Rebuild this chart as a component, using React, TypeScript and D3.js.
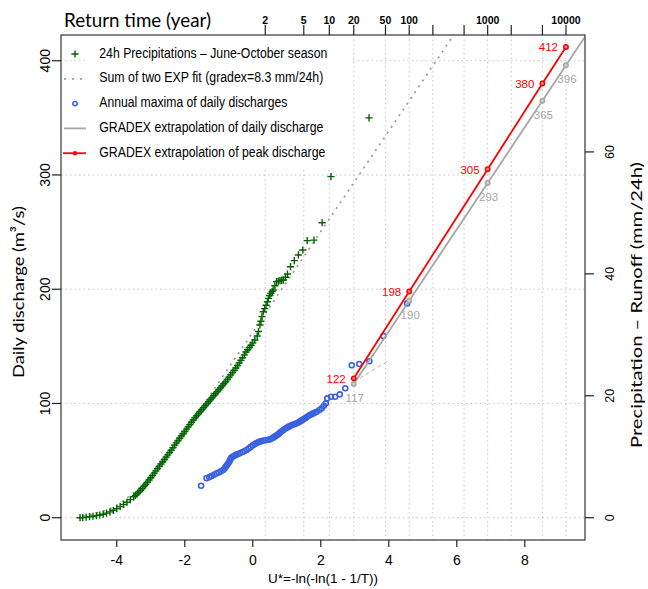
import React, { useEffect, useRef } from 'react';
import * as d3 from 'd3';

// U* = reduced Gumbel variate, Q = daily discharge (m3/s)
const U_TICKS = [-4, -2, 0, 2, 4, 6, 8];
const Q_TICKS = [0, 100, 200, 300, 400];
const MM_TICKS = [0, 20, 40, 60];
const RETURN_T = [2, 5, 10, 20, 50, 100, 200, 500, 1000, 2000, 5000, 10000];
const RETURN_LABELLED = [2, 5, 10, 20, 50, 100, 1000, 10000];
const MM_TO_Q = 5.336; // 1 mm/24h over the catchment in m3/s

// 24h precipitations (already expressed in m3/s), [U*, Q]
const PRECIP = [
  [-5.08, 0], [-5.0, 0.2], [-4.9, 0.5], [-4.8, 0.9], [-4.7, 1.3], [-4.6, 1.8], [-4.5, 2.4], [-4.4, 3.1],
  [-4.3, 4.0], [-4.2, 5.1], [-4.1, 6.5], [-4.0, 8.0], [-3.9, 9.7], [-3.8, 11.6], [-3.7, 13.6], [-3.6, 15.8],
  [-3.5, 18.3], [-3.45, 19.6], [-3.4, 21], [-3.35, 22.5], [-3.3, 24], [-3.25, 25.7], [-3.2, 27.5], [-3.15, 29.2],
  [-3.1, 31], [-3.05, 33], [-3.0, 35], [-2.95, 37], [-2.9, 39], [-2.85, 41], [-2.8, 43], [-2.75, 45],
  [-2.7, 47], [-2.65, 49], [-2.6, 51], [-2.55, 53], [-2.5, 55], [-2.45, 57], [-2.4, 59], [-2.35, 61.2],
  [-2.3, 63.5], [-2.25, 65.5], [-2.2, 67.5], [-2.15, 69.5], [-2.1, 71.5], [-2.05, 73.5], [-2.0, 75.5], [-1.95, 77.5],
  [-1.9, 79.5], [-1.85, 81.5], [-1.8, 83.5], [-1.75, 85.5], [-1.7, 87.5], [-1.65, 89.3], [-1.6, 91], [-1.55, 92.8],
  [-1.5, 94.5], [-1.45, 96.2], [-1.4, 98], [-1.35, 99.7], [-1.3, 101.5], [-1.25, 103.2], [-1.2, 105], [-1.15, 106.7],
  [-1.1, 108.5], [-1.05, 110.2], [-1.0, 112], [-0.95, 113.7], [-0.9, 115.5], [-0.85, 117.2], [-0.8, 119], [-0.75, 121],
  [-0.7, 123], [-0.65, 125], [-0.6, 127], [-0.55, 129], [-0.5, 131], [-0.45, 133.2], [-0.4, 135.5], [-0.35, 137.7],
  [-0.3, 140], [-0.25, 142.5], [-0.2, 145], [-0.15, 147], [-0.1, 149], [-0.05, 151], [0.0, 153],
  [0.06, 155.5], [0.13, 159], [0.17, 163], [0.21, 168.7], [0.24, 172], [0.27, 176], [0.31, 180.3], [0.35, 183],
  [0.39, 186], [0.43, 189], [0.46, 192], [0.5, 194.5], [0.53, 196.4], [0.57, 198], [0.6, 199.3], [0.65, 203],
  [0.7, 206.6], [0.75, 207], [0.8, 207.5], [0.85, 207.8], [0.9, 208], [0.96, 210.5], [1.02, 213.3], [1.11, 219.7],
  [1.22, 225], [1.34, 230], [1.47, 234.3], [1.6, 242.5], [1.8, 243], [2.04, 258.2], [2.3, 298.5], [3.42, 350],
];

// sum of two exponentials fit, [U*, Q]
const EXP_FIT = [
  [-5.0, 1.5], [-4.6, 4], [-4.2, 8], [-3.8, 15], [-3.4, 24.5], [-3.0, 36.5], [-2.6, 51], [-2.2, 67],
  [-1.8, 84], [-1.4, 101], [-1.0, 118.5], [-0.6, 136], [-0.2, 153.5], [0.2, 171], [0.6, 189], [1.0, 206.5],
  [1.5, 228.5], [2.0, 250.5], [2.5, 272.5], [3.0, 294.5], [4.0, 338.5], [5.0, 382.5], [6.2, 435.5],
];

// annual maxima of daily discharges, [U*, Q]
const ANNUAL_MAX = [
  [-1.52, 28], [-1.36, 34.5], [-1.28, 35.5], [-1.21, 36.5], [-1.13, 37.8], [-1.06, 38.9], [-1.0, 39.6], [-0.94, 40.6],
  [-0.87, 41.8], [-0.83, 43], [-0.8, 44.5], [-0.76, 46], [-0.72, 47.6], [-0.69, 49], [-0.67, 50.5], [-0.64, 51.8],
  [-0.62, 52.9], [-0.57, 53.8], [-0.53, 54.5], [-0.48, 55.2], [-0.43, 55.8], [-0.37, 56.6], [-0.3, 57.5], [-0.24, 58.4],
  [-0.18, 59.3], [-0.12, 60.6], [-0.06, 62], [0.0, 63.3], [0.06, 64.5], [0.11, 65.3], [0.16, 66], [0.21, 66.6],
  [0.26, 67.1], [0.32, 67.5], [0.38, 67.8], [0.45, 68.2], [0.51, 68.6], [0.57, 69.5], [0.62, 70.5], [0.67, 71.4],
  [0.72, 72.4], [0.77, 73.6], [0.81, 74.8], [0.86, 75.8], [0.9, 76.8], [0.95, 77.8], [1.0, 78.7], [1.05, 79.5],
  [1.09, 80.3], [1.14, 80.9], [1.19, 81.5], [1.24, 82], [1.29, 82.6], [1.34, 83.4], [1.39, 84.3], [1.44, 85.2],
  [1.49, 86.1], [1.54, 87], [1.58, 88], [1.63, 89], [1.68, 89.9], [1.73, 90.6], [1.78, 91.3], [1.83, 92],
  [1.88, 92.8], [1.96, 94.3], [2.03, 95.8], [2.09, 98], [2.15, 100.1], [2.19, 104.5], [2.3, 105.9], [2.42, 105.9],
  [2.56, 108], [2.72, 113.3], [2.91, 133.4], [3.13, 134.5], [3.43, 136.9], [3.84, 159], [4.54, 187.6],
];

// short fit of the daily maxima tail
const DAILY_FIT_TAIL = [[2.97, 119], [3.94, 136.5]];

// GRADEX extrapolations at given return times
const GRADEX_T = [20, 100, 1000, 5000, 10000];
const DAILY_Q = [117, 190, 293, 365, 396];
const PEAK_Q = [122, 198, 305, 380, 412];

const LEGEND = [
  { label: '24h Precipitations \u2013 June-October season', w: 228 },
  { label: 'Sum of two EXP fit (gradex=8.3 mm/24h)', w: 224 },
  { label: 'Annual maxima of daily discharges', w: 188 },
  { label: 'GRADEX extrapolation of daily discharge', w: 224 },
  { label: 'GRADEX extrapolation of peak discharge', w: 226 },
];

const uOfT = (t) => -Math.log(-Math.log(1 - 1 / t));

const SANS = '"Liberation Sans", Arial, sans-serif';
const TITLE = 'Lato, "Open Sans", sans-serif';
const GREEN = '#006400';
const BLUE = '#3a62e0';
const GREY = '#a6a6a6';
const RED = '#ff0000';

const App = () => {
  const ref = useRef(null);

  useEffect(() => {
    const L = 61, R = 585, T = 35, B = 540;
    const x = d3.scaleLinear().domain([-5.64, 9.77]).range([L, R]);
    const y = d3.scaleLinear().domain([-19.5, 422.5]).range([B, T]);
    const yMm = d3.scaleLinear().domain([-19.5 / MM_TO_Q, 422.5 / MM_TO_Q]).range([B, T]);

    const svg = d3.select(ref.current);
    svg.selectAll('*').remove();

    svg.append('defs').append('clipPath').attr('id', 'plotClip')
      .append('rect').attr('x', L).attr('y', T).attr('width', R - L).attr('height', B - T);

    // grid
    const grid = svg.append('g').attr('stroke', '#c8c8c8').attr('stroke-width', 1).attr('stroke-dasharray', '1.5,3');
    RETURN_T.forEach(t => {
      grid.append('line').attr('x1', x(uOfT(t))).attr('x2', x(uOfT(t))).attr('y1', T).attr('y2', B);
    });
    Q_TICKS.forEach(q => {
      grid.append('line').attr('x1', L).attr('x2', R).attr('y1', y(q)).attr('y2', y(q));
    });

    // legend background hides the grid behind it
    svg.append('rect').attr('x', 88).attr('y', T + 1).attr('width', 264).attr('height', 131).attr('fill', '#fff');

    const plot = svg.append('g').attr('clip-path', 'url(#plotClip)');
    const line = d3.line().x(d => x(d[0])).y(d => y(d[1]));

    // exp fit, dotted
    plot.append('path')
      .attr('d', line.curve(d3.curveMonotoneX)(EXP_FIT))
      .attr('fill', 'none').attr('stroke', '#9a9a9a').attr('stroke-width', 1.7)
      .attr('stroke-dasharray', '2,5');
    line.curve(d3.curveLinear);

    // precipitation crosses
    const cs = 3.6;
    plot.append('g').selectAll('path').data(PRECIP).enter().append('path')
      .attr('d', d => `M${x(d[0]) - cs},${y(d[1])}h${2 * cs}M${x(d[0])},${y(d[1]) - cs}v${2 * cs}`)
      .attr('stroke', GREEN).attr('stroke-width', 1.4).attr('fill', 'none');

    // short dashed fit of daily maxima
    plot.append('path').attr('d', line(DAILY_FIT_TAIL))
      .attr('fill', 'none').attr('stroke', '#b0b0b0').attr('stroke-width', 1).attr('stroke-dasharray', '4,3');

    // annual maxima circles
    plot.append('g').selectAll('circle').data(ANNUAL_MAX).enter().append('circle')
      .attr('cx', d => x(d[0])).attr('cy', d => y(d[1])).attr('r', 2.5)
      .attr('fill', 'none').attr('stroke', BLUE).attr('stroke-width', 1.6);

    // GRADEX daily line, extended to the right border with its own slope
    const daily = GRADEX_T.map((t, i) => [uOfT(t), DAILY_Q[i]]);
    const n = daily.length;
    const slope = (daily[n - 1][1] - daily[n - 2][1]) / (daily[n - 1][0] - daily[n - 2][0]);
    const xMax = x.domain()[1];
    const dailyExt = [...daily, [xMax, daily[n - 1][1] + slope * (xMax - daily[n - 1][0])]];
    plot.append('path').attr('d', line(dailyExt))
      .attr('fill', 'none').attr('stroke', GREY).attr('stroke-width', 1.8);

    const peak = GRADEX_T.map((t, i) => [uOfT(t), PEAK_Q[i]]);
    plot.append('path').attr('d', line(peak))
      .attr('fill', 'none').attr('stroke', RED).attr('stroke-width', 1.8);

    plot.append('g').selectAll('circle').data(daily).enter().append('circle')
      .attr('cx', d => x(d[0])).attr('cy', d => y(d[1])).attr('r', 2.2)
      .attr('fill', '#d0d0d0').attr('stroke', GREY).attr('stroke-width', 1.5);
    plot.append('g').selectAll('circle').data(peak).enter().append('circle')
      .attr('cx', d => x(d[0])).attr('cy', d => y(d[1])).attr('r', 2.2)
      .attr('fill', '#ff8080').attr('stroke', RED).attr('stroke-width', 1.5);

    // value labels
    svg.append('g').selectAll('text').data(peak).enter().append('text')
      .attr('x', d => x(d[0]) - 8).attr('y', d => y(d[1]) + 4.5)
      .attr('text-anchor', 'end').attr('font-family', SANS).attr('font-size', 11.5)
      .attr('fill', RED).text(d => d[1]);
    svg.append('g').selectAll('text').data(daily).enter().append('text')
      .attr('x', d => x(d[0]) + 1).attr('y', d => y(d[1]) + 18)
      .attr('text-anchor', 'middle').attr('font-family', SANS).attr('font-size', 11.5)
      .attr('fill', GREY).text(d => d[1]);

    // box
    svg.append('rect').attr('x', L).attr('y', T).attr('width', R - L).attr('height', B - T)
      .attr('fill', 'none').attr('stroke', '#444').attr('stroke-width', 1.3);

    const ax = svg.append('g').attr('stroke', '#222').attr('stroke-width', 1.2);

    // bottom axis
    U_TICKS.forEach(u => {
      ax.append('line').attr('x1', x(u)).attr('x2', x(u)).attr('y1', B).attr('y2', B + 7);
      svg.append('text').attr('x', x(u)).attr('y', B + 25).attr('text-anchor', 'middle')
        .attr('font-family', SANS).attr('font-size', 14).text(u);
    });
    svg.append('text').attr('x', (L + R) / 2).attr('y', 583).attr('text-anchor', 'middle')
      .attr('font-family', SANS).attr('font-size', 13.5).text('U*=-ln(-ln(1 - 1/T))');

    // left axis
    Q_TICKS.forEach(q => {
      ax.append('line').attr('x1', L - 9).attr('x2', L).attr('y1', y(q)).attr('y2', y(q));
      svg.append('text').attr('transform', `translate(50,${y(q)}) rotate(-90)`).attr('text-anchor', 'middle')
        .attr('font-family', SANS).attr('font-size', 14).text(q);
    });
    svg.append('text').attr('transform', 'translate(24,292) rotate(-90)').attr('text-anchor', 'middle')
      .attr('font-family', TITLE).attr('font-size', 16)
      .attr('textLength', 172).attr('lengthAdjust', 'spacingAndGlyphs')
      .text('Daily discharge (m\u00B3/s)');

    // right axis (mm/24h)
    MM_TICKS.forEach(m => {
      ax.append('line').attr('x1', R).attr('x2', R + 9).attr('y1', yMm(m)).attr('y2', yMm(m));
      svg.append('text').attr('transform', `translate(614,${yMm(m)}) rotate(-90)`).attr('text-anchor', 'middle')
        .attr('font-family', SANS).attr('font-size', 12.5).text(m);
    });
    svg.append('text').attr('transform', 'translate(642,305) rotate(-90)').attr('text-anchor', 'middle')
      .attr('font-family', TITLE).attr('font-size', 16)
      .attr('textLength', 286).attr('lengthAdjust', 'spacingAndGlyphs')
      .text('Precipitation \u2013 Runoff (mm/24h)');

    // top axis (return time)
    RETURN_T.forEach(t => {
      ax.append('line').attr('x1', x(uOfT(t))).attr('x2', x(uOfT(t))).attr('y1', T - 10).attr('y2', T);
    });
    RETURN_LABELLED.forEach(t => {
      svg.append('text').attr('x', x(uOfT(t))).attr('y', 23.5).attr('text-anchor', 'middle')
        .attr('font-family', SANS).attr('font-size', 10.5).attr('font-weight', 'bold').text(t);
    });
    svg.append('text').attr('x', 64).attr('y', 27).attr('font-family', TITLE).attr('font-size', 19)
      .attr('textLength', 147).attr('lengthAdjust', 'spacingAndGlyphs').text('Return time (year)');

    // legend
    const lg = svg.append('g');
    const rowY = i => 54 + 24.8 * i;
    const sx = 75;
    lg.append('path').attr('d', `M${sx - 3.6},${rowY(0)}h7.2M${sx},${rowY(0) - 3.6}v7.2`)
      .attr('stroke', GREEN).attr('stroke-width', 1.4);
    lg.append('line').attr('x1', 64).attr('x2', 84).attr('y1', rowY(1)).attr('y2', rowY(1))
      .attr('stroke', '#9a9a9a').attr('stroke-width', 1.7).attr('stroke-dasharray', '2,6');
    lg.append('circle').attr('cx', sx).attr('cy', rowY(2)).attr('r', 2.2)
      .attr('fill', 'none').attr('stroke', BLUE).attr('stroke-width', 1.5);
    lg.append('line').attr('x1', 64).attr('x2', 86).attr('y1', rowY(3)).attr('y2', rowY(3))
      .attr('stroke', GREY).attr('stroke-width', 1.8);
    lg.append('line').attr('x1', 63).attr('x2', 86).attr('y1', rowY(4)).attr('y2', rowY(4))
      .attr('stroke', RED).attr('stroke-width', 1.8);
    lg.append('circle').attr('cx', sx).attr('cy', rowY(4)).attr('r', 2.2).attr('fill', RED);
    LEGEND.forEach((d, i) => {
      lg.append('text').attr('x', 99.3).attr('y', rowY(i) + 3.5)
        .attr('font-family', SANS).attr('font-size', 14)
        .attr('textLength', d.w).attr('lengthAdjust', 'spacingAndGlyphs').text(d.label);
    });
  }, []);

  return (
    <svg ref={ref} width={648} height={589}
      style={{ position: 'absolute', left: 0, top: 0, background: '#fff' }} />
  );
};

export default App;
